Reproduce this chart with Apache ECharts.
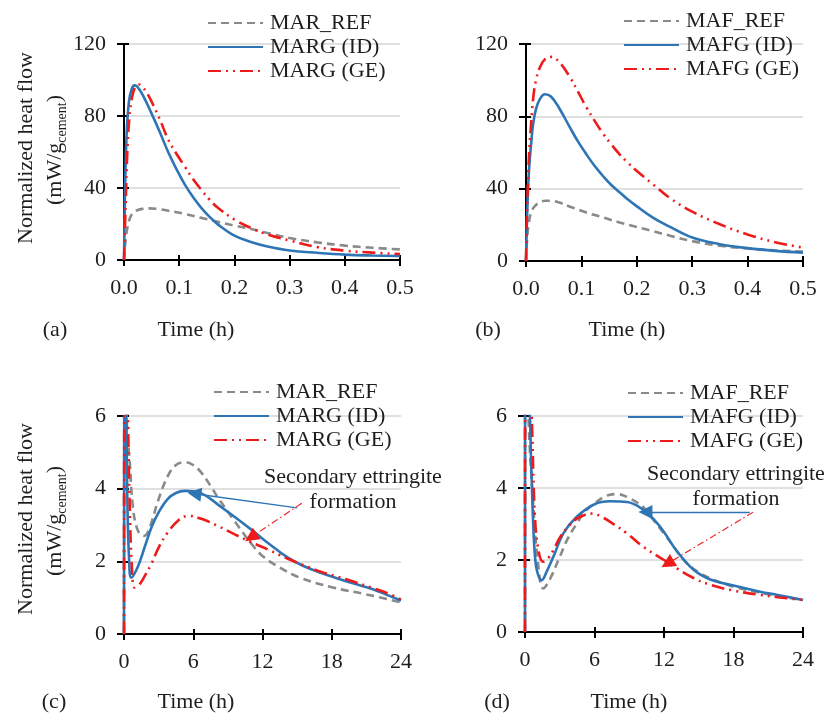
<!DOCTYPE html>
<html><head><meta charset="utf-8">
<script src="https://cdn.jsdelivr.net/npm/echarts@6/dist/echarts.min.js"></script>
<style>html,body{margin:0;padding:0;background:#fff}#c{width:826px;height:716px}</style>
</head><body><div id="c"></div>
<script>
// ---------- tick labels ----------
const yTicksTop = [0, 40, 80, 120];
const xTicksTop = [0.0, 0.1, 0.2, 0.3, 0.4, 0.5];
const yTicksBottom = [0, 2, 4, 6];
const xTicksBottom = [0, 6, 12, 18, 24];

// ---------- legend names ----------
const namesMAR = ['MAR_REF', 'MARG (ID)', 'MARG (GE)'];
const namesMAF = ['MAF_REF', 'MAFG (ID)', 'MAFG (GE)'];

// ---------- (a) 0 - 0.5 h, MAR ----------
const a_ref = [[0,0],[0.002,8],[0.004,14],[0.007,19],[0.011,23.5],[0.016,26],[0.025,27.8],[0.035,28.5],[0.045,28.7],[0.06,28.4],[0.08,27.4],[0.11,25.6],[0.14,23.4],[0.17,21.2],[0.2,19.1],[0.23,17.2],[0.26,15.0],[0.3,12.2],[0.35,9.8],[0.4,8.0],[0.45,6.8],[0.5,5.9]];
const a_id  = [[0,0],[0.002,40],[0.005,72],[0.009,88],[0.014,95],[0.019,97],[0.025,96],[0.035,91],[0.049,82],[0.065,71],[0.08,60],[0.095,50.5],[0.11,42],[0.125,35],[0.14,29],[0.155,24],[0.17,19.8],[0.2,13.5],[0.23,10],[0.26,7.5],[0.3,5.3],[0.35,4.0],[0.4,3.0],[0.45,2.5],[0.5,2.2]];
const a_ge  = [[0,0],[0.003,30],[0.006,60],[0.01,80],[0.015,91],[0.021,96.5],[0.027,97.5],[0.034,96],[0.042,92.5],[0.05,88],[0.065,78],[0.08,67],[0.095,59],[0.11,52],[0.125,45],[0.14,39],[0.155,33.5],[0.17,29],[0.2,22.5],[0.23,17.8],[0.26,14.2],[0.3,10.8],[0.35,7.2],[0.4,5.2],[0.45,4.1],[0.5,3.3]];

// ---------- (b) 0 - 0.5 h, MAF ----------
const b_ref = [[0,0],[0.002,12],[0.005,21],[0.009,26.5],[0.015,30],[0.025,32.5],[0.035,33.3],[0.045,33.3],[0.06,32.3],[0.08,30],[0.109,26.8],[0.14,24],[0.169,21.3],[0.2,18.8],[0.229,16.5],[0.26,14],[0.3,11],[0.35,8.4],[0.4,6.9],[0.45,5.9],[0.5,5.2]];
const b_id  = [[0,0],[0.002,25],[0.005,48],[0.009,64],[0.013,76],[0.018,84],[0.025,89.5],[0.034,92.2],[0.045,91],[0.06,84.5],[0.079,74],[0.094,66],[0.109,59],[0.124,52.5],[0.139,47],[0.154,42],[0.169,38],[0.184,34],[0.199,30.5],[0.229,24],[0.259,19],[0.3,13],[0.35,9.3],[0.4,7.1],[0.45,5.6],[0.5,4.6]];
const b_ge  = [[0,0],[0.002,28],[0.005,55],[0.009,75],[0.013,90],[0.018,100],[0.025,107],[0.034,111.5],[0.046,112.9],[0.06,110],[0.079,101.8],[0.094,93.5],[0.109,85],[0.124,77.5],[0.139,70.5],[0.154,64.5],[0.169,59],[0.184,54.3],[0.199,50],[0.229,42.5],[0.259,35],[0.3,27.3],[0.35,20.3],[0.4,14.7],[0.45,10.4],[0.5,7.4]];

// ---------- (c) 0 - 24 h, MAR ----------
const c_ref = [[0,0],[0.08,9],[0.2,6.2],[0.35,5.3],[0.49,4.77],[0.78,3.48],[1.21,2.84],[1.75,2.7],[2.3,3.0],[2.94,3.66],[3.8,4.35],[4.5,4.65],[5.25,4.73],[6.0,4.65],[6.7,4.44],[7.5,4.08],[8.15,3.75],[9.6,3.1],[11,2.5],[12,2.15],[13.5,1.83],[15.25,1.55],[18.1,1.28],[21,1.09],[24,0.87]];
const c_id  = [[0,0],[0.03,8],[0.1,14],[0.2,6.5],[0.3,3.5],[0.45,2.0],[0.63,1.55],[1.2,1.85],[1.8,2.4],[2.4,2.95],[3.0,3.35],[3.8,3.72],[4.5,3.88],[5.25,3.94],[6.0,3.93],[6.7,3.87],[7.5,3.72],[8.15,3.56],[9.6,3.22],[11,2.88],[12.5,2.5],[14.2,2.1],[15.5,1.88],[17.1,1.68],[18.5,1.53],[20,1.38],[21.5,1.24],[23,1.05],[24,0.92]];
const c_ge  = [[0,0],[0.05,9],[0.2,12],[0.35,6],[0.5,3.5],[0.7,1.75],[0.92,1.28],[1.3,1.35],[1.8,1.6],[2.4,1.95],[3.0,2.38],[3.8,2.8],[4.68,3.12],[5.54,3.25],[6.7,3.17],[8.15,2.97],[9.6,2.74],[11,2.53],[12.5,2.32],[14.2,2.07],[15.5,1.9],[17.1,1.71],[18.5,1.58],[20,1.43],[21.5,1.27],[23,1.1],[24,0.95]];

// ---------- (d) 0 - 24 h, MAF ----------
const d_ref = [[0,0],[0.05,10],[0.3,6],[0.7,3.6],[1.1,2.0],[1.58,1.21],[2.2,1.5],[3.0,2.09],[3.7,2.6],[4.47,3.01],[5.2,3.35],[6,3.57],[7,3.78],[7.9,3.83],[9,3.72],[10.2,3.47],[11,3.15],[12,2.74],[13,2.3],[14,1.9],[15,1.66],[16,1.49],[18,1.26],[20.3,1.09],[24,0.89]];
const d_id  = [[0,0],[0.05,12],[0.2,10],[0.43,6],[0.65,3.5],[0.86,2.1],[1.1,1.62],[1.44,1.44],[1.9,1.7],[2.45,2.09],[3.31,2.74],[4.47,3.2],[6,3.55],[7.35,3.63],[8.8,3.61],[10.2,3.4],[11.2,3.1],[12,2.78],[13.1,2.25],[14.55,1.73],[16,1.46],[18,1.29],[20.3,1.12],[21.8,1.03],[24,0.89]];
const d_ge  = [[0,0],[0.05,10],[0.3,8],[0.58,6],[0.86,3.2],[1.2,2.2],[1.58,1.95],[2.0,2.05],[2.45,2.27],[3.0,2.62],[3.8,2.95],[4.47,3.15],[5.2,3.26],[5.9,3.29],[6.6,3.2],[7.35,3.06],[8.8,2.74],[10.2,2.37],[12,2.0],[13.1,1.77],[14.55,1.5],[16,1.31],[18,1.15],[20.3,1.03],[22,0.96],[24,0.89]];

// ---------- annotation arrows (data coords) ----------
const c_arrowID = [[15.0, 3.47], [6.1, 3.86]];
const c_arrowGE = [[15.4, 3.6], [11.0, 2.66]];
const d_arrowID = [[19.4, 3.33], [10.4, 3.33]];
const d_arrowGE = [[19.7, 3.33], [12.3, 1.9]];

// ================== chart building ==================
const FONT = 'Liberation Serif';
const TXT = '#1e1e1e';
const COL = { ref: '#8a8a8a', id: '#2E75B6', ge: '#ee1b1b' };
const DASH = { ref: [8, 5], id: 'solid', ge: [13, 5, 2, 5, 2, 5] };

const grids = [
  { left: 124, top: 44, width: 276, height: 216 },
  { left: 526, top: 44, width: 277, height: 217 },
  { left: 124, top: 416, width: 277, height: 218 },
  { left: 525, top: 416, width: 278, height: 216 }
];
const xRanges = [xTicksTop, xTicksTop, xTicksBottom, xTicksBottom];
const yRanges = [yTicksTop, yTicksTop, yTicksBottom, yTicksBottom];

const xAxis = [], yAxis = [];
grids.forEach((g, i) => {
  const xt = xRanges[i], yt = yRanges[i];
  const xmin = xt[0], xmax = xt[xt.length - 1], xint = xt[1] - xt[0];
  const ymin = yt[0], ymax = yt[yt.length - 1], yint = yt[1] - yt[0];
  const dec = i < 2 ? 1 : 0;
  xAxis.push({
    gridIndex: i, type: 'value', min: xmin, max: xmax, interval: xint, position: 'bottom',
    axisLine: { show: true, onZero: false, lineStyle: { color: '#000', width: 2 } },
    axisTick: { show: true, length: 6, lineStyle: { color: '#000', width: 2 } },
    axisLabel: { show: true, margin: 17, fontFamily: FONT, fontSize: 22, color: TXT, formatter: v => v.toFixed(dec) },
    splitLine: { show: false }
  });
  xAxis.push({
    gridIndex: i, type: 'value', min: xmin, max: xmax, interval: xint, position: 'bottom',
    axisLine: { show: false, onZero: false },
    axisTick: { show: true, inside: true, length: 5, lineStyle: { color: '#000', width: 2 } },
    axisLabel: { show: false }, splitLine: { show: false }
  });
  yAxis.push({
    gridIndex: i, type: 'value', min: ymin, max: ymax, interval: yint, position: 'left',
    axisLine: { show: true, onZero: false, lineStyle: { color: '#000', width: 2 } },
    axisTick: { show: true, length: 7, lineStyle: { color: '#000', width: 2 } },
    axisLabel: { show: true, margin: 18, fontFamily: FONT, fontSize: 22, color: TXT },
    splitLine: { show: true, lineStyle: { color: '#d6d6d6', width: 1.5 } }
  });
  yAxis.push({
    gridIndex: i, type: 'value', min: ymin, max: ymax, interval: yint, position: 'left',
    axisLine: { show: false, onZero: false },
    axisTick: { show: true, inside: true, length: 5, lineStyle: { color: '#000', width: 2 } },
    axisLabel: { show: false }, splitLine: { show: false }
  });
});

function mkLine(name, data, gi, kind, arrow) {
  const s = {
    type: 'line', name: name, data: data,
    xAxisIndex: gi * 2, yAxisIndex: gi * 2,
    symbol: 'none', showSymbol: false, smooth: 0.4, clip: true,
    lineStyle: { width: 2.6, color: COL[kind], type: DASH[kind] },
    itemStyle: { color: COL[kind] },
    z: kind === 'ref' ? 2 : kind === 'id' ? 3 : 4,
    animation: false
  };
  if (arrow) {
    s.markLine = {
      silent: true, animation: false,
      symbol: ['none', 'triangle'], symbolSize: 14,
      label: { show: false },
      itemStyle: { color: COL[kind] },
      lineStyle: kind === 'id'
        ? { color: COL.id, width: 1.3, type: 'solid' }
        : { color: COL.ge, width: 1.1, type: [7, 3, 1.5, 3] },
      data: [[{ coord: arrow[0] }, { coord: arrow[1] }]]
    };
  }
  return s;
}

const series = [
  mkLine(namesMAR[0], a_ref, 0, 'ref'), mkLine(namesMAR[1], a_id, 0, 'id'), mkLine(namesMAR[2], a_ge, 0, 'ge'),
  mkLine(namesMAF[0], b_ref, 1, 'ref'), mkLine(namesMAF[1], b_id, 1, 'id'), mkLine(namesMAF[2], b_ge, 1, 'ge'),
  mkLine(namesMAR[0], c_ref, 2, 'ref'), mkLine(namesMAR[1], c_id, 2, 'id', c_arrowID), mkLine(namesMAR[2], c_ge, 2, 'ge', c_arrowGE),
  mkLine(namesMAF[0], d_ref, 3, 'ref'), mkLine(namesMAF[1], d_id, 3, 'id', d_arrowID), mkLine(namesMAF[2], d_ge, 3, 'ge', d_arrowGE)
];

function mkLegend(names, left, top) {
  return {
    orient: 'vertical', left: left, top: top, itemWidth: 55, itemHeight: 2, itemGap: 2,
    selectedMode: false, padding: 0,
    itemStyle: { opacity: 0 },
    textStyle: { fontFamily: FONT, fontSize: 22, color: TXT, padding: [0, 0, 0, 2] },
    data: names
  };
}

function txt(x, y, text, extra) {
  return Object.assign({
    type: 'text', x: x, y: y, silent: true,
    style: { text: text, fontFamily: FONT, fontSize: 22, fill: TXT, align: 'center', verticalAlign: 'middle' }
  }, extra || {});
}
function yTitle(cx1, cx2, cy) {
  return [
    txt(cx1, cy, 'Normalized heat flow', { rotation: Math.PI / 2 }),
    {
      type: 'text', x: cx2, y: cy + 2, rotation: Math.PI / 2, silent: true,
      style: {
        text: '{m|(mW/g}{s|cement}{m|)}', align: 'center', verticalAlign: 'middle',
        rich: {
          m: { fontFamily: FONT, fontSize: 22, fill: TXT, lineHeight: 22, verticalAlign: 'top' },
          s: { fontFamily: FONT, fontSize: 14, fill: TXT, lineHeight: 14, padding: [11, 0, 0, 0], verticalAlign: 'top' }
        }
      }
    }
  ];
}

const annoStyle = { text: 'Secondary ettringite\nformation', fontFamily: FONT, fontSize: 22, fill: TXT, align: 'center', verticalAlign: 'middle', lineHeight: 25 };
const graphic = [].concat(
  yTitle(26, 55, 148),
  yTitle(26, 55, 519),
  [
    txt(55, 330, '(a)'), txt(196, 330, 'Time (h)'),
    txt(488, 330, '(b)'), txt(627, 330, 'Time (h)'),
    txt(54, 702, '(c)'), txt(196, 702, 'Time (h)'),
    txt(497, 702, '(d)'), txt(629, 702, 'Time (h)'),
    { type: 'text', x: 353, y: 490, silent: true, style: Object.assign({}, annoStyle) },
    { type: 'text', x: 736, y: 487, silent: true, style: Object.assign({}, annoStyle) }
  ]
);

const chart = echarts.init(document.getElementById('c'), null, { renderer: 'canvas' });
chart.setOption({
  backgroundColor: '#fff',
  animation: false,
  grid: grids.map(g => Object.assign({ outerBoundsMode: 'none', containLabel: false }, g)),
  xAxis: xAxis,
  yAxis: yAxis,
  legend: [
    mkLegend(namesMAR, 207, 12),
    mkLegend(namesMAF, 623, 10),
    mkLegend(namesMAR, 213, 381),
    mkLegend(namesMAF, 627, 382)
  ],
  series: series,
  graphic: graphic
});
</script>
</body></html>
